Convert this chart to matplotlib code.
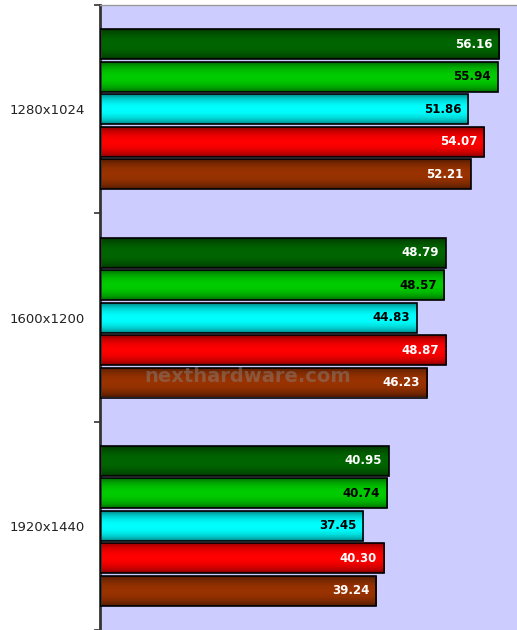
import numpy as np
import matplotlib.pyplot as plt

# Risoluzioni e valori (fps)
risoluzioni = ['1280x1024', '1600x1200', '1920x1440']
serie_1 = [56.16, 48.79, 40.95]
serie_2 = [55.94, 48.57, 40.74]
serie_3 = [51.86, 44.83, 37.45]
serie_4 = [54.07, 48.87, 40.30]
serie_5 = [52.21, 46.23, 39.24]

serie = [serie_1, serie_2, serie_3, serie_4, serie_5]
colori = ['#006600', '#00cc00', '#00ffff', '#ff0000', '#993300']
colori_testo = ['white', 'black', 'black', 'white', 'white']

fig = plt.figure(figsize=(5.17, 6.30), dpi=100)
ax = fig.add_axes([100 / 517, 0, 417 / 517, 625 / 630])
ax.set_facecolor('#ccccff')

x_min, x_max = 1.2, 58.6
altezza = 0.144
passo = 0.156
y_base = np.arange(len(risoluzioni))

# profilo verticale per l'effetto sfumato delle barre
t = np.linspace(0, 1, 64)
profilo = 0.45 + 0.55 * np.sin(np.pi * t) ** 0.6

for i, (valori, col, col_t) in enumerate(zip(serie, colori, colori_testo)):
    y = y_base + (i - 2) * passo
    larghezze = [v - x_min for v in valori]
    barre = ax.barh(y, larghezze, left=x_min, height=altezza, color='none',
                    edgecolor='black', linewidth=1.2, zorder=3)
    rgb = np.array(plt.matplotlib.colors.to_rgb(col))
    grad = (profilo[:, None] * rgb[None, :])[:, None, :]
    for b, v in zip(barre, valori):
        x0, y0 = b.get_x(), b.get_y()
        im = ax.imshow(grad, extent=[x0, x0 + b.get_width(), y0 + altezza, y0],
                       aspect='auto', zorder=2, interpolation='bilinear')
        im.set_clip_path(b)
        ax.annotate(f'{v:.2f}', (v, b.get_y() + altezza / 2),
                    xytext=(-5, 0), textcoords='offset points',
                    ha='right', va='center', fontsize=8.5, fontweight='bold',
                    color=col_t, zorder=4)

ax.set_xlim(x_min, x_max)
ax.set_ylim(2.5, -0.5)

ax.set_yticks(y_base)
ax.set_yticklabels(risoluzioni, fontsize=9.5, color='#222222')
ax.set_yticks([-0.5, 0.5, 1.5, 2.5], minor=True)
ax.tick_params(axis='y', which='major', length=0, pad=11)
ax.tick_params(axis='y', which='minor', length=4, width=1.2, color='#333333')
ax.set_xticks([])

for s in ['right', 'bottom']:
    ax.spines[s].set_visible(False)
ax.spines['left'].set_color('#333333')
ax.spines['left'].set_linewidth(2)
ax.spines['top'].set_color('#999999')
ax.spines['top'].set_linewidth(1)

# filigrana
ax.text(0.355, 0.405, 'nexthardware.com', transform=ax.transAxes,
        fontsize=14, color='#888888', alpha=0.45, ha='center', va='center',
        fontweight='bold', zorder=5)

fig.savefig('out.png', dpi=100)
